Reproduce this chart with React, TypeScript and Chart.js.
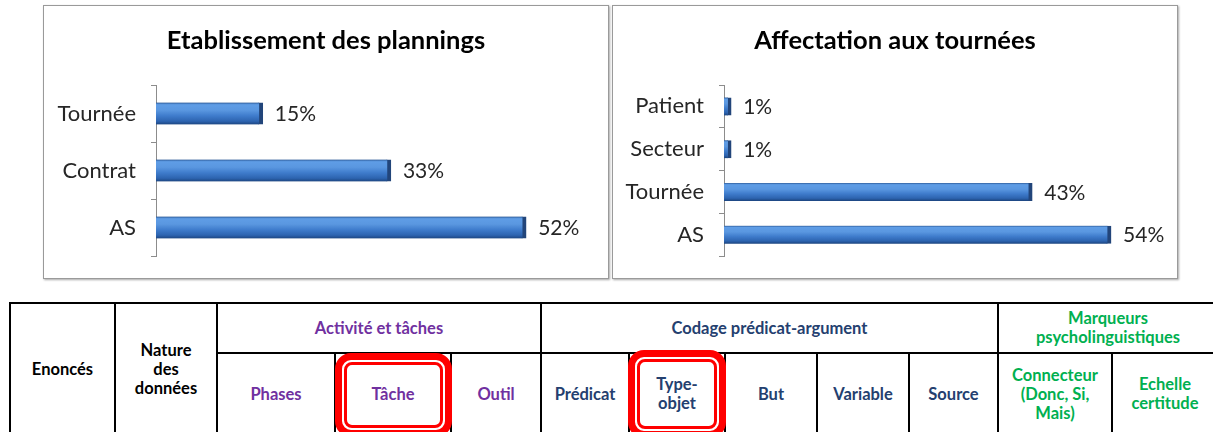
import React, { useEffect, useRef } from 'react';
import { Chart, registerables } from 'chart.js';

Chart.register(...registerables);

// ---- chart data ----
const planningTitle = 'Etablissement des plannings';
const planningCategories = ['Tournée', 'Contrat', 'AS'];
const planningValues = [15, 33, 52];

const affectationTitle = 'Affectation aux tournées';
const affectationCategories = ['Patient', 'Secteur', 'Tournée', 'AS'];
const affectationValues = [1, 1, 43, 54];

// ---- table header texts ----
const leftHeaders = [['Enoncés'], ['Nature', 'des', 'données']];
const groupHeaders = [['Activité et tâches'], ['Codage prédicat-argument'], ['Marqueurs', 'psycholinguistiques']];
const activityCols = [['Phases'], ['Tâche'], ['Outil']];
const codageCols = [['Prédicat'], ['Type-', 'objet'], ['But'], ['Variable'], ['Source']];
const marqueurCols = [['Connecteur', '(Donc, Si,', 'Mais)'], ['Echelle', 'certitude']];

const PURPLE = '#7030a0';
const BLUE = '#24406f';
const GREEN = '#00b050';
const FONT = 'Lato, "Open Sans", sans-serif';

const valueLabels = {
  id: 'valueLabels',
  afterDatasetsDraw(chart: any) {
    const { ctx } = chart;
    const meta = chart.getDatasetMeta(0);
    ctx.save();
    ctx.font = '21px Lato';
    ctx.fillStyle = '#262626';
    ctx.textBaseline = 'middle';
    ctx.textAlign = 'left';
    meta.data.forEach((bar: any, i: number) => {
      const v = chart.data.datasets[0].data[i];
      ctx.fillText(v + '%', bar.x + 12, bar.y + 1);
    });
    ctx.restore();
  },
};

type BarProps = {
  title: string;
  labels: string[];
  values: number[];
  thickness: number;
  axisLeft: number;
  xMax: number;
};

function BarChart({ title, labels, values, thickness, axisLeft, xMax }: BarProps) {
  const ref = useRef<HTMLCanvasElement>(null);
  useEffect(() => {
    if (!ref.current) return;
    const chart = new Chart(ref.current, {
      type: 'bar',
      data: {
        labels,
        datasets: [
          {
            data: values,
            barThickness: thickness,
            backgroundColor: (c: any) => {
              const ch = c.chart;
              const ys = ch.scales && ch.scales.y;
              if (!ys || c.type !== 'data') return '#4a86d4';
              const cy = ys.getPixelForValue(c.dataIndex);
              if (!Number.isFinite(cy)) return '#4a86d4';
              const g = ch.ctx.createLinearGradient(0, cy - thickness / 2, 0, cy + thickness / 2);
              g.addColorStop(0, '#2c5a98');
              g.addColorStop(0.1, '#5f9de6');
              g.addColorStop(0.35, '#5a97e0');
              g.addColorStop(0.6, '#3f7ccc');
              g.addColorStop(0.85, '#2d64b0');
              g.addColorStop(1, '#1c4580');
              return g;
            },
            borderColor: '#22457a',
            borderWidth: { top: 0, right: 4, bottom: 0, left: 0 },
            borderSkipped: false,
          } as any,
        ],
      },
      options: {
        indexAxis: 'y',
        responsive: false,
        animation: false,
        layout: { padding: { left: 0, right: 0, top: 0, bottom: 22 } },
        plugins: {
          legend: { display: false },
          tooltip: { enabled: false },
          title: {
            display: true,
            text: title,
            color: '#000',
            font: { family: 'Lato', size: 25.5, weight: 'bold' },
            padding: { top: 19.7, bottom: 28.7 },
          },
        },
        scales: {
          x: { display: false, min: 0, max: xMax },
          y: {
            position: 'left',
            grid: {
              display: true,
              drawOnChartArea: false,
              drawTicks: true,
              tickLength: 5,
              color: '#8c8c8c',
              offset: true,
            },
            border: { display: true, color: '#8c8c8c' },
            ticks: { padding: 15, color: '#262626', font: { family: 'Lato', size: 22 } },
            afterFit: (s: any) => {
              s.width = axisLeft;
              s.paddingTop = 0;
              s.paddingBottom = 0;
            },
          },
        },
      } as any,
      plugins: [valueLabels],
    });
    return () => chart.destroy();
  }, []);
  return <canvas ref={ref} width={564} height={272} style={{ display: 'block' }} />;
}

function Cell({ x, y, w, h, lines, color, lh = 19 }: { x: number; y: number; w: number; h: number; lines: string[]; color: string; lh?: number }) {
  return (
    <div
      style={{
        position: 'absolute',
        left: x,
        top: y,
        width: w,
        height: h,
        display: 'flex',
        flexDirection: 'column',
        alignItems: 'center',
        justifyContent: 'center',
        color,
        fontFamily: FONT,
        fontWeight: 700,
        fontSize: 16.5,
        lineHeight: lh + 'px',
        textAlign: 'center',
        whiteSpace: 'nowrap',
      }}
    >
      {lines.map((t, i) => (
        <div key={i}>{t}</div>
      ))}
    </div>
  );
}

function RedBox({ x, y, w, h }: { x: number; y: number; w: number; h: number }) {
  return (
    <div
      style={{
        position: 'absolute',
        left: x,
        top: y,
        width: w,
        height: h,
        boxSizing: 'border-box',
        border: '7px solid #ff0000',
        borderRadius: 16,
        background: '#fff',
      }}
    >
      <div
        style={{
          position: 'absolute',
          left: 2,
          top: 2,
          right: 2,
          bottom: 2,
          border: '3px solid #ff0000',
          borderRadius: 8,
        }}
      />
    </div>
  );
}

export default function App() {
  const H = (x: number, y: number, w: number) => (
    <div style={{ position: 'absolute', left: x, top: y, width: w, height: 2, background: '#000' }} />
  );
  const V = (x: number, y: number, h: number) => (
    <div style={{ position: 'absolute', left: x - 1, top: y, width: 2, height: h, background: '#000' }} />
  );
  const boxStyle: React.CSSProperties = {
    position: 'absolute',
    top: 5,
    width: 566,
    height: 274,
    boxSizing: 'border-box',
    border: '1px solid #9a9a9a',
    boxShadow: '1px 1px 2px rgba(0,0,0,0.35)',
    background: '#fff',
  };
  const row1Top = 303;
  const row1H = 50;
  const row2Top = 353;
  const row2H = 82;
  const colX = [217, 335, 451, 541, 629, 725, 817, 909, 998, 1112, 1218];
  return (
    <div style={{ position: 'absolute', left: 0, top: 0, width: 1213, height: 432, overflow: 'hidden', background: '#fff' }}>
      <div style={{ ...boxStyle, left: 43 }}>
        <BarChart title={planningTitle} labels={planningCategories} values={planningValues} thickness={22} axisLeft={112} xMax={63.5} />
      </div>
      <div style={{ ...boxStyle, left: 612 }}>
        <BarChart title={affectationTitle} labels={affectationCategories} values={affectationValues} thickness={18} axisLeft={111} xMax={63.2} />
      </div>

      {/* table lines */}
      {H(10, 302, 1210)}
      {H(217, 352, 1000)}
      {[10, 115, 217, 541, 998].map((x) => <React.Fragment key={'v' + x}>{V(x, 302, 140)}</React.Fragment>)}
      {[335, 451, 629, 725, 817, 909, 1112].map((x) => <React.Fragment key={'w' + x}>{V(x, 352, 90)}</React.Fragment>)}

      {/* left headers */}
      <Cell x={10} y={303} w={105} h={132} lines={leftHeaders[0]} color="#000" />
      <Cell x={115} y={303} w={102} h={132} lines={leftHeaders[1]} color="#000" />

      {/* group headers */}
      <Cell x={217} y={row1Top} w={324} h={row1H} lines={groupHeaders[0]} color={PURPLE} />
      <Cell x={541} y={row1Top} w={457} h={row1H} lines={groupHeaders[1]} color={BLUE} />
      <Cell x={998} y={row1Top} w={220} h={row1H} lines={groupHeaders[2]} color={GREEN} />

      {/* red highlight boxes */}
      <RedBox x={335} y={353} w={117} h={84} />
      <RedBox x={628} y={350} w={98} h={88} />

      {/* sub headers */}
      {activityCols.map((l, i) => (
        <Cell key={'a' + i} x={colX[i]} y={row2Top} w={colX[i + 1] - colX[i]} h={row2H} lines={l} color={PURPLE} />
      ))}
      {codageCols.map((l, i) => (
        <Cell key={'c' + i} x={colX[i + 3]} y={row2Top} w={colX[i + 4] - colX[i + 3]} h={row2H} lines={l} color={BLUE} />
      ))}
      {marqueurCols.map((l, i) => (
        <Cell key={'m' + i} x={colX[i + 8]} y={row2Top} w={colX[i + 9] - colX[i + 8]} h={row2H} lines={l} color={GREEN} />
      ))}
    </div>
  );
}
